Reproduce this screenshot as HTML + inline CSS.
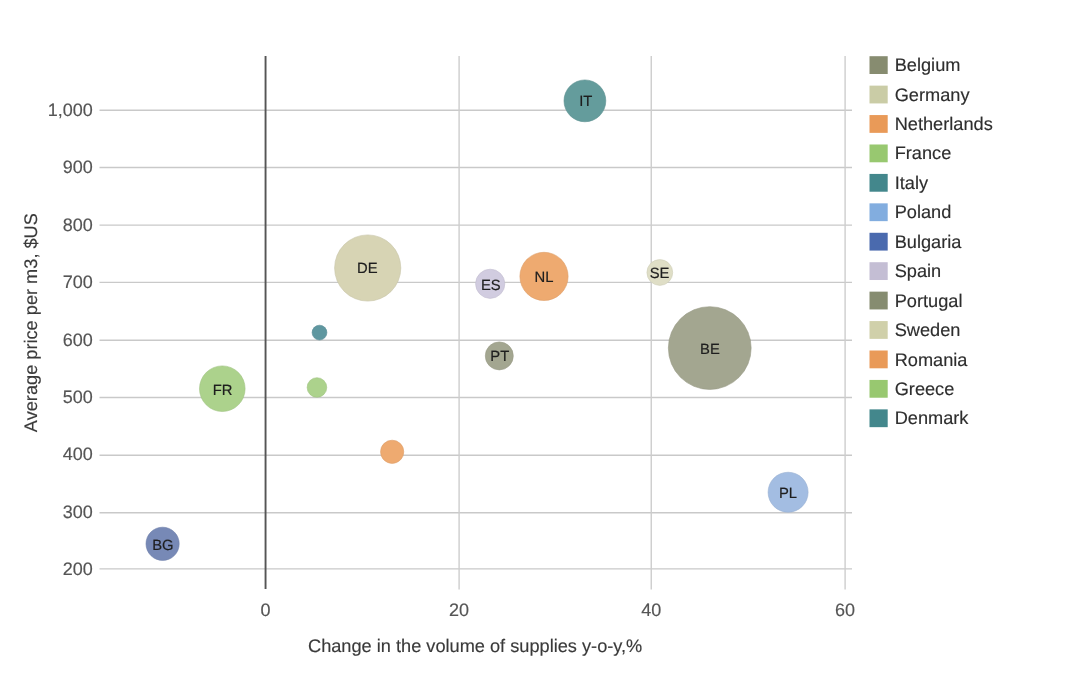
<!DOCTYPE html>
<html><head><meta charset="utf-8"><style>
html,body{margin:0;padding:0;background:#fff;width:1080px;height:673px;overflow:hidden}
svg{display:block;filter:blur(0.45px)}
text{font-family:"Liberation Sans", sans-serif;text-rendering:geometricPrecision}
</style></head><body>
<svg width="1080" height="673" viewBox="0 0 1080 673">
<rect width="1080" height="673" fill="#fff"/>

<line x1="99.5" y1="110.25" x2="852" y2="110.25" stroke="#c9c9c9" stroke-width="1.4"/>
<line x1="99.5" y1="167.55" x2="852" y2="167.55" stroke="#c9c9c9" stroke-width="1.4"/>
<line x1="99.5" y1="225.1" x2="852" y2="225.1" stroke="#c9c9c9" stroke-width="1.4"/>
<line x1="99.5" y1="282.4" x2="852" y2="282.4" stroke="#c9c9c9" stroke-width="1.4"/>
<line x1="99.5" y1="340.25" x2="852" y2="340.25" stroke="#c9c9c9" stroke-width="1.4"/>
<line x1="99.5" y1="397.55" x2="852" y2="397.55" stroke="#c9c9c9" stroke-width="1.4"/>
<line x1="99.5" y1="455.25" x2="852" y2="455.25" stroke="#c9c9c9" stroke-width="1.4"/>
<line x1="99.5" y1="512.75" x2="852" y2="512.75" stroke="#c9c9c9" stroke-width="1.4"/>
<line x1="99.5" y1="568.85" x2="852" y2="568.85" stroke="#c9c9c9" stroke-width="1.4"/>
<line x1="459.1" y1="56" x2="459.1" y2="589.5" stroke="#cdcdcd" stroke-width="1.4"/>
<line x1="651.25" y1="56" x2="651.25" y2="589.5" stroke="#cdcdcd" stroke-width="1.4"/>
<line x1="845.1" y1="56" x2="845.1" y2="589.5" stroke="#cdcdcd" stroke-width="1.4"/>
<line x1="265.55" y1="56" x2="265.55" y2="589" stroke="#555" stroke-width="1.9"/>
<text x="92.8" y="115.70" text-anchor="end" font-size="18" fill="#555" stroke="#555" stroke-width="0.15">1,000</text>
<text x="92.8" y="173.15" text-anchor="end" font-size="18" fill="#555" stroke="#555" stroke-width="0.15">900</text>
<text x="92.8" y="230.60" text-anchor="end" font-size="18" fill="#555" stroke="#555" stroke-width="0.15">800</text>
<text x="92.8" y="288.05" text-anchor="end" font-size="18" fill="#555" stroke="#555" stroke-width="0.15">700</text>
<text x="92.8" y="345.50" text-anchor="end" font-size="18" fill="#555" stroke="#555" stroke-width="0.15">600</text>
<text x="92.8" y="402.95" text-anchor="end" font-size="18" fill="#555" stroke="#555" stroke-width="0.15">500</text>
<text x="92.8" y="460.40" text-anchor="end" font-size="18" fill="#555" stroke="#555" stroke-width="0.15">400</text>
<text x="92.8" y="517.85" text-anchor="end" font-size="18" fill="#555" stroke="#555" stroke-width="0.15">300</text>
<text x="92.8" y="575.30" text-anchor="end" font-size="18" fill="#555" stroke="#555" stroke-width="0.15">200</text>
<text x="265.55" y="616" text-anchor="middle" font-size="18" fill="#555" stroke="#555" stroke-width="0.15">0</text>
<text x="459.1" y="616" text-anchor="middle" font-size="18" fill="#555" stroke="#555" stroke-width="0.15">20</text>
<text x="651.25" y="616" text-anchor="middle" font-size="18" fill="#555" stroke="#555" stroke-width="0.15">40</text>
<text x="845.1" y="616" text-anchor="middle" font-size="18" fill="#555" stroke="#555" stroke-width="0.15">60</text>
<text x="475.15" y="652.2" text-anchor="middle" font-size="18.2" fill="#3a3a3a" stroke="#3a3a3a" stroke-width="0.15">Change in the volume of supplies y-o-y,%</text>
<text transform="translate(36.7 322.65) rotate(-90)" x="0" y="0" text-anchor="middle" font-size="18.2" fill="#3a3a3a" stroke="#3a3a3a" stroke-width="0.15">Average price per m3, $US</text>
<circle cx="709.75" cy="348.05" r="41.40" fill="#a3a690" stroke="#989a86" stroke-width="0.6"/>
<circle cx="367.7" cy="268.0" r="33.10" fill="#d7d4b4" stroke="#c8c5a7" stroke-width="0.6"/>
<circle cx="544.0" cy="276.4" r="24.10" fill="#eeaa70" stroke="#dd9e68" stroke-width="0.6"/>
<circle cx="222.3" cy="388.7" r="22.80" fill="#acd28c" stroke="#a0c382" stroke-width="0.6"/>
<circle cx="584.9" cy="100.85" r="20.90" fill="#649c9c" stroke="#5d9191" stroke-width="0.6"/>
<circle cx="788.1" cy="492.25" r="20.00" fill="#a3bde2" stroke="#98b0d2" stroke-width="0.6"/>
<circle cx="162.6" cy="543.8" r="16.60" fill="#7789b6" stroke="#6f7fa9" stroke-width="0.6"/>
<circle cx="490.2" cy="283.8" r="14.60" fill="#d1cce0" stroke="#c2bed0" stroke-width="0.6"/>
<circle cx="499.3" cy="355.9" r="14.00" fill="#a3a690" stroke="#989a86" stroke-width="0.6"/>
<circle cx="659.8" cy="272.5" r="12.90" fill="#dfdec6" stroke="#cfceb8" stroke-width="0.6"/>
<circle cx="392.15" cy="451.8" r="11.60" fill="#eeaa70" stroke="#dd9e68" stroke-width="0.6"/>
<circle cx="316.95" cy="387.5" r="9.80" fill="#acd28c" stroke="#a0c382" stroke-width="0.6"/>
<circle cx="319.5" cy="332.6" r="7.40" fill="#5f97a0" stroke="#588c95" stroke-width="0.6"/>
<text x="585.8" y="106.24" text-anchor="middle" font-size="14.8" fill="#1e1e1e" stroke="#1e1e1e" stroke-width="0.2">IT</text>
<text x="367.3" y="273.14" text-anchor="middle" font-size="14.8" fill="#1e1e1e" stroke="#1e1e1e" stroke-width="0.2">DE</text>
<text x="490.85" y="289.59" text-anchor="middle" font-size="14.8" fill="#1e1e1e" stroke="#1e1e1e" stroke-width="0.2">ES</text>
<text x="544.05" y="281.69" text-anchor="middle" font-size="14.8" fill="#1e1e1e" stroke="#1e1e1e" stroke-width="0.2">NL</text>
<text x="659.6" y="277.84" text-anchor="middle" font-size="14.8" fill="#1e1e1e" stroke="#1e1e1e" stroke-width="0.2">SE</text>
<text x="499.8" y="360.79" text-anchor="middle" font-size="14.8" fill="#1e1e1e" stroke="#1e1e1e" stroke-width="0.2">PT</text>
<text x="709.95" y="353.79" text-anchor="middle" font-size="14.8" fill="#1e1e1e" stroke="#1e1e1e" stroke-width="0.2">BE</text>
<text x="222.55" y="394.64" text-anchor="middle" font-size="14.8" fill="#1e1e1e" stroke="#1e1e1e" stroke-width="0.2">FR</text>
<text x="788.05" y="497.59" text-anchor="middle" font-size="14.8" fill="#1e1e1e" stroke="#1e1e1e" stroke-width="0.2">PL</text>
<text x="162.9" y="549.69" text-anchor="middle" font-size="14.8" fill="#1e1e1e" stroke="#1e1e1e" stroke-width="0.2">BG</text>
<rect x="869.5" y="56.20" width="18.2" height="17.8" fill="#878c70"/>
<text x="894.7" y="71.20" font-size="18.2" fill="#2e2e2e" stroke="#2e2e2e" stroke-width="0.15">Belgium</text>
<rect x="869.5" y="85.63" width="18.2" height="17.8" fill="#cacca6"/>
<text x="894.7" y="100.63" font-size="18.2" fill="#2e2e2e" stroke="#2e2e2e" stroke-width="0.15">Germany</text>
<rect x="869.5" y="115.06" width="18.2" height="17.8" fill="#e99a58"/>
<text x="894.7" y="130.06" font-size="18.2" fill="#2e2e2e" stroke="#2e2e2e" stroke-width="0.15">Netherlands</text>
<rect x="869.5" y="144.49" width="18.2" height="17.8" fill="#98c870"/>
<text x="894.7" y="159.49" font-size="18.2" fill="#2e2e2e" stroke="#2e2e2e" stroke-width="0.15">France</text>
<rect x="869.5" y="173.92" width="18.2" height="17.8" fill="#43878c"/>
<text x="894.7" y="188.92" font-size="18.2" fill="#2e2e2e" stroke="#2e2e2e" stroke-width="0.15">Italy</text>
<rect x="869.5" y="203.35" width="18.2" height="17.8" fill="#82addf"/>
<text x="894.7" y="218.35" font-size="18.2" fill="#2e2e2e" stroke="#2e2e2e" stroke-width="0.15">Poland</text>
<rect x="869.5" y="232.78" width="18.2" height="17.8" fill="#4a6aae"/>
<text x="894.7" y="247.78" font-size="18.2" fill="#2e2e2e" stroke="#2e2e2e" stroke-width="0.15">Bulgaria</text>
<rect x="869.5" y="262.21" width="18.2" height="17.8" fill="#c4bed4"/>
<text x="894.7" y="277.21" font-size="18.2" fill="#2e2e2e" stroke="#2e2e2e" stroke-width="0.15">Spain</text>
<rect x="869.5" y="291.64" width="18.2" height="17.8" fill="#868c70"/>
<text x="894.7" y="306.64" font-size="18.2" fill="#2e2e2e" stroke="#2e2e2e" stroke-width="0.15">Portugal</text>
<rect x="869.5" y="321.07" width="18.2" height="17.8" fill="#d0d0aa"/>
<text x="894.7" y="336.07" font-size="18.2" fill="#2e2e2e" stroke="#2e2e2e" stroke-width="0.15">Sweden</text>
<rect x="869.5" y="350.50" width="18.2" height="17.8" fill="#e99a58"/>
<text x="894.7" y="365.50" font-size="18.2" fill="#2e2e2e" stroke="#2e2e2e" stroke-width="0.15">Romania</text>
<rect x="869.5" y="379.93" width="18.2" height="17.8" fill="#98c870"/>
<text x="894.7" y="394.93" font-size="18.2" fill="#2e2e2e" stroke="#2e2e2e" stroke-width="0.15">Greece</text>
<rect x="869.5" y="409.36" width="18.2" height="17.8" fill="#43878c"/>
<text x="894.7" y="424.36" font-size="18.2" fill="#2e2e2e" stroke="#2e2e2e" stroke-width="0.15">Denmark</text>
</svg></body></html>
